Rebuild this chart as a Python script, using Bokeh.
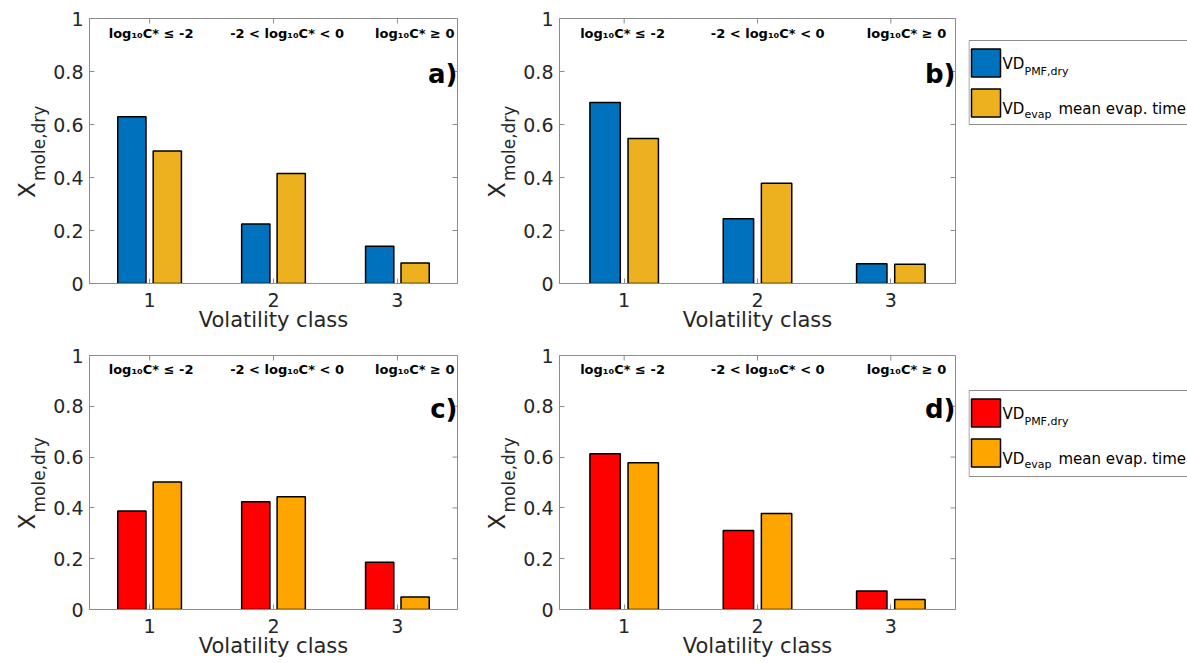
import math
from bokeh.plotting import figure
from bokeh.models import ColumnDataSource, Range1d, FixedTicker
from bokeh.transform import dodge
from bokeh.layouts import row, column
from bokeh.embed import file_html
from bokeh.resources import INLINE
from bokeh.core.properties import value

# ---------------- data ----------------
categories = [1, 2, 3]
x_tick_labels = ["1", "2", "3"]
y_ticks = [0, 0.2, 0.4, 0.6, 0.8, 1.0]
y_tick_labels = ["0", "0.2", "0.4", "0.6", "0.8", "1"]

a_pmf = [0.629, 0.225, 0.141]
a_evap = [0.500, 0.415, 0.077]
b_pmf = [0.683, 0.244, 0.075]
b_evap = [0.547, 0.378, 0.073]
c_pmf = [0.388, 0.424, 0.186]
c_evap = [0.502, 0.444, 0.049]
d_pmf = [0.613, 0.311, 0.073]
d_evap = [0.578, 0.378, 0.039]

panel_letters = ["a)", "b)", "c)", "d)"]
region_labels = ["log\u2081\u2080C* \u2264 -2", "-2 < log\u2081\u2080C* < 0", "log\u2081\u2080C* \u2265 0"]
region_label_x = [0.67, 1.65, 2.82]
x_label = "Volatility class"
y_label_main = ["X"]
y_label_sub = ["mole,dry"]
legend_main = ["VD", "VD"]
legend_sub = ["PMF,dry", "evap"]
legend_tail = ["mean evap. time"]

top_colors = ["#0072BD", "#EDB120"]
bottom_colors = ["#FF0000", "#FFA500"]

FONT = "DejaVu Sans"
AX = "#8c8c8c"
TXT = "#262626"
XR = (0.515, 3.485)
LAB_W = 50


def base_fig(width, height, left, right, top, bottom, **kw):
    return figure(width=width, height=height, output_backend="svg", toolbar_location=None,
                  min_border_left=left, min_border_right=right,
                  min_border_top=top, min_border_bottom=bottom,
                  background_fill_color="white", border_fill_color="white", **kw)


def panel(pmf, evap, colors, letter, width, height, left, right, top, bottom):
    p = base_fig(width, height, left, right, top, bottom,
                 x_range=Range1d(*XR), y_range=Range1d(0, 1))
    p.grid.visible = False
    p.outline_line_color = AX
    p.outline_line_width = 1

    src = ColumnDataSource(dict(x=categories, pmf=pmf, evap=evap))
    p.vbar(x=dodge("x", -0.143, range=p.x_range), top="pmf", width=0.228, bottom=0,
           source=src, fill_color=colors[0], line_color="black", line_width=1.5)
    p.vbar(x=dodge("x", 0.143, range=p.x_range), top="evap", width=0.228, bottom=0,
           source=src, fill_color=colors[1], line_color="black", line_width=1.5)

    xa = p.xaxis[0]
    xa.ticker = FixedTicker(ticks=categories)
    xa.major_label_overrides = {c: l for c, l in zip(categories, x_tick_labels)}
    xa.axis_label = x_label
    xa.axis_label_text_font = FONT
    xa.axis_label_text_font_size = "21px"
    xa.axis_label_text_font_style = "normal"
    xa.axis_label_text_color = TXT
    xa.axis_label_standoff = -2
    xa.major_label_text_font = FONT
    xa.major_label_text_font_size = "19px"
    xa.major_label_text_color = TXT
    xa.major_label_standoff = 9
    xa.major_tick_in = 5
    xa.major_tick_out = 0
    xa.minor_tick_line_color = None
    xa.axis_line_color = AX
    xa.major_tick_line_color = AX

    ya = p.yaxis[0]
    ya.ticker = FixedTicker(ticks=y_ticks)
    ya.major_label_overrides = {t: l for t, l in zip(y_ticks, y_tick_labels)}
    ya.major_label_text_font = FONT
    ya.major_label_text_font_size = "19px"
    ya.major_label_text_color = TXT
    ya.major_label_standoff = 6
    ya.major_tick_in = 5
    ya.major_tick_out = 0
    ya.minor_tick_line_color = None
    ya.axis_line_color = AX
    ya.major_tick_line_color = AX

    # mirrored ticks on the box (right and top)
    p.ray(x=[XR[1]] * len(y_ticks), y=y_ticks, length=5, length_units="screen",
          angle=math.pi, line_color=AX, line_width=1)
    p.ray(x=categories, y=[1] * len(categories), length=5, length_units="screen",
          angle=-math.pi / 2, line_color=AX, line_width=1)

    p.text(x=region_label_x, y=[0.945] * 3, text=region_labels,
           text_font=value(FONT), text_font_style="bold", text_font_size="13px",
           text_align="left", text_baseline="alphabetic", text_color="black")
    p.text(x=[XR[1]], y=[0.79], text=[letter], text_font=value(FONT),
           text_font_style="bold", text_font_size="26px", text_align="right",
           text_baseline="middle", text_color="black")
    return p


def ylabel_fig(height, top, bottom):
    fh = height - top - bottom
    p = base_fig(LAB_W, height, 0, 0, top, bottom,
                 x_range=Range1d(0, LAB_W), y_range=Range1d(0, fh),
                 x_axis_type=None, y_axis_type=None)
    p.grid.visible = False
    p.outline_line_color = None
    p.text(x=[26], y=[fh / 2 - 47], text=y_label_main, angle=math.pi / 2,
           text_font=value(FONT), text_font_size="23px", text_color=TXT,
           text_align="left", text_baseline="alphabetic")
    p.text(x=[38.5], y=[fh / 2 - 30], text=y_label_sub, angle=math.pi / 2,
           text_font=value(FONT), text_font_size="17px", text_color=TXT,
           text_align="left", text_baseline="alphabetic")
    return p


def legend_fig(height, top, bottom, box_top, box_h, colors):
    fh = height - top - bottom
    # y data = pixels down from the frame top
    p = base_fig(219, height, 0, 0, top, bottom,
                 x_range=Range1d(0, 219), y_range=Range1d(fh, 0),
                 x_axis_type=None, y_axis_type=None)
    p.grid.visible = False
    p.outline_line_color = None
    p.quad(left=[0.5], right=[219.5], top=[box_top], bottom=[box_top + box_h],
           fill_color="white", line_color=AX, line_width=1)
    s1 = box_top + 8.5
    s2 = box_top + 48.5
    p.rect(x=[17.5, 17.5], y=[s1 + 14, s2 + 14], width=29, height=28, fill_color=colors,
           line_color="black", line_width=1.5)
    p.text(x=[34, 34], y=[s1 + 14.5, s2 + 20], text=legend_main, text_font=value(FONT),
           text_font_size="15px", text_align="left", text_baseline="alphabetic",
           text_color="black")
    p.text(x=[56, 56], y=[s1 + 22, s2 + 25], text=legend_sub, text_font=value(FONT),
           text_font_size="11px", text_align="left", text_baseline="alphabetic",
           text_color="black")
    p.text(x=[90], y=[s2 + 20], text=legend_tail, text_font=value(FONT),
           text_font_size="15px", text_align="left", text_baseline="alphabetic",
           text_color="black")
    return p


# row 1: borders top 18 / bottom 57 ; row 2: top 15 / bottom 54
ya_lab = ylabel_fig(340, 18, 57)
pa = panel(a_pmf, a_evap, top_colors, panel_letters[0], 420, 340, 37, 13, 18, 57)
yb_lab = ylabel_fig(340, 18, 57)
pb = panel(b_pmf, b_evap, top_colors, panel_letters[1], 448, 340, 37, 13, 18, 57)
la = legend_fig(340, 18, 57, 22, 84, top_colors)

yc_lab = ylabel_fig(323, 15, 54)
pc = panel(c_pmf, c_evap, bottom_colors, panel_letters[2], 420, 323, 37, 13, 15, 54)
yd_lab = ylabel_fig(323, 15, 54)
pd = panel(d_pmf, d_evap, bottom_colors, panel_letters[3], 448, 323, 37, 13, 15, 54)
ld = legend_fig(323, 15, 54, 35, 86, bottom_colors)

layout = column(row(ya_lab, pa, yb_lab, pb, la), row(yc_lab, pc, yd_lab, pd, ld))

with open("out.html", "w") as f:
    f.write(file_html(layout, INLINE))
